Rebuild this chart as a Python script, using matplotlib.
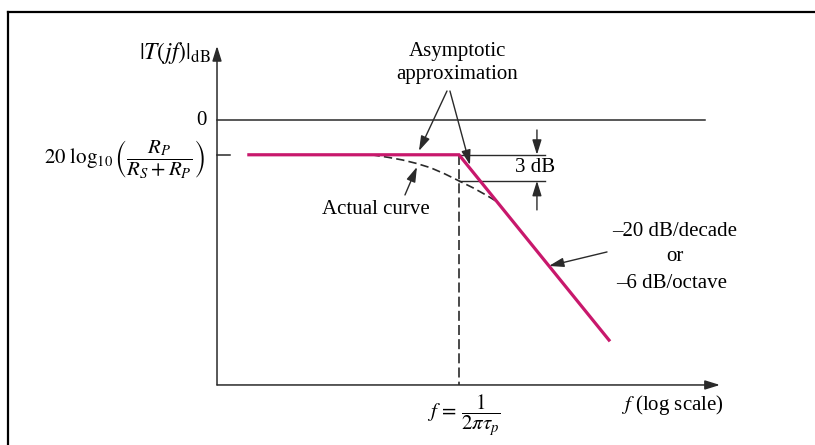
import matplotlib
matplotlib.use('Agg')
import matplotlib.pyplot as plt
import numpy as np
from matplotlib.lines import Line2D

plt.rcParams['font.family'] = 'Liberation Serif'
plt.rcParams['mathtext.fontset'] = 'stix'

# x in decades relative to the pole frequency, y in dB
LEVEL_DB = -4.0                      # 20 log10(Rp / (Rs + Rp))
ASYM_X = [-1.49, 0.0, 1.064]         # asymptotic approximation
ASYM_DROP = [0.0, 0.0, 21.3]         # dB below the flat level
CURVE_X = [-0.62, -0.5, -0.4, -0.3, -0.2, -0.1, 0.0, 0.1, 0.2, 0.27]
CURVE_DROP = [0.0, 0.3, 0.6, 1.0, 1.5, 2.2, 3.0, 3.8, 4.7, 5.4]
CORNER_DROP = 3.0

PINK = '#C8186C'
INK = '#2a2a2a'
FS = 15

Y_AXIS_X = -1.716
X_AXIS_Y = -30.46


def arrow(ax, tail, head, lw=1.1, hl=0.9, hw=0.28):
    ax.annotate('', xy=head, xytext=tail,
                arrowprops=dict(arrowstyle=f'-|>,head_length={hl},head_width={hw}',
                                color=INK, lw=lw, shrinkA=0, shrinkB=0))


def main():
    fig = plt.figure(figsize=(8.15, 4.45), dpi=100)
    ax = fig.add_axes([0, 0, 1, 1])
    ax.set_xlim(-3.255, 2.525)
    ax.set_ylim(-37.36, 13.79)
    ax.axis('off')

    # page frame (top and left edges)
    fig.add_artist(Line2D([8 / 815, 1], [1 - 12 / 445] * 2, transform=fig.transFigure, color='black', lw=1.6))
    fig.add_artist(Line2D([8 / 815] * 2, [0, 1 - 12 / 445], transform=fig.transFigure, color='black', lw=1.6))

    # axes with arrowheads
    arrow(ax, (Y_AXIS_X, X_AXIS_Y), (Y_AXIS_X, 8.51))
    arrow(ax, (Y_AXIS_X, X_AXIS_Y), (1.851, X_AXIS_Y))
    ax.plot([Y_AXIS_X, 1.745], [0, 0], color=INK, lw=1.1)
    ax.plot([Y_AXIS_X, -1.624], [LEVEL_DB, LEVEL_DB], color=INK, lw=1.1)

    # dashed marker at the pole frequency
    ax.plot([0, 0], [LEVEL_DB, X_AXIS_Y], color=INK, lw=1.2, ls=(0, (6, 2.5)))

    # actual response
    cy = LEVEL_DB - np.array(CURVE_DROP)
    ax.plot(CURVE_X, cy, color=INK, lw=1.2, ls=(0, (5, 2.5)))

    # asymptotes
    ay = LEVEL_DB - np.array(ASYM_DROP)
    ax.plot(ASYM_X, ay, color=PINK, lw=2.3, solid_joinstyle='miter', zorder=5)

    # 3 dB marker
    low = LEVEL_DB - CORNER_DROP
    ax.plot([0, 0.61], [LEVEL_DB, LEVEL_DB], color=INK, lw=1.0)
    ax.plot([0, 0.61], [low, low], color=INK, lw=1.0)
    arrow(ax, (0.553, -1.15), (0.553, LEVEL_DB), lw=1.0)
    arrow(ax, (0.553, -10.34), (0.553, low), lw=1.0)
    ax.text(0.539, LEVEL_DB - CORNER_DROP / 2, '3 dB', fontsize=FS, ha='center', va='center')

    # labels
    ax.text(-1.759, 7.7, r'$|T(jf)|_{\mathrm{dB}}$', fontsize=17, ha='right', va='center')
    ax.text(-1.787, -0.11, '0', fontsize=FS, ha='right', va='center')
    ax.text(-1.801, -4.5, r'$20\ \log_{10}\left(\dfrac{R_P}{R_S + R_P}\right)$',
            fontsize=FS, ha='right', va='center')

    ax.text(-0.014, 7.82, 'Asymptotic', fontsize=FS, ha='center', va='center')
    ax.text(-0.014, 5.17, 'approximation', fontsize=FS, ha='center', va='center')
    arrow(ax, (-0.085, 3.33), (-0.284, -3.56), lw=1.0)
    arrow(ax, (-0.064, 3.33), (0.078, -5.17), lw=1.0)

    ax.text(-0.589, -10.34, 'Actual curve', fontsize=FS, ha='center', va='center')
    arrow(ax, (-0.383, -8.62), (-0.298, -5.4), lw=1.0)

    ax.text(1.532, -12.87, '\u201320 dB/decade', fontsize=FS, ha='center', va='center')
    ax.text(1.532, -15.75, 'or', fontsize=FS, ha='center', va='center')
    ax.text(1.511, -18.74, '\u20136 dB/octave', fontsize=FS, ha='center', va='center')
    arrow(ax, (1.05, -15.17), (0.638, -16.78), lw=1.0)

    ax.text(0.035, -33.9, r'$f\,=\,\dfrac{1}{2\pi\tau_p}$', fontsize=FS, ha='center', va='center')
    ax.text(1.511, -32.76, r'$f$ (log scale)', fontsize=FS, ha='center', va='center')

    fig.savefig('out.png', dpi=100)
    plt.close(fig)


if __name__ == '__main__':
    main()
